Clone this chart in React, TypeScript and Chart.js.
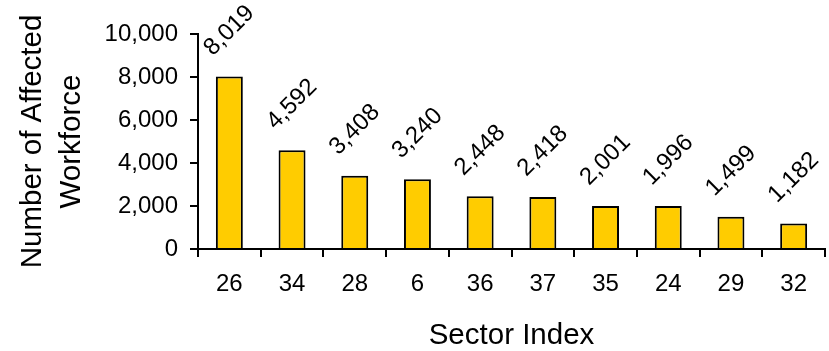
import React, { useEffect, useRef } from "react";
import { Chart, registerables } from "chart.js";

Chart.register(...registerables);

const categories = ["26", "34", "28", "6", "36", "37", "35", "24", "29", "32"];
const workforce = [8019, 4592, 3408, 3240, 2448, 2418, 2001, 1996, 1499, 1182];
const yTitle = ["Number of Affected", "Workforce"];
const xTitle = "Sector Index";

const FONT = "'Liberation Sans', Arial, sans-serif";

const fmt = (v: number) => Number(v).toLocaleString("en-US");

const barLabels = {
  id: "barLabels",
  afterDatasetsDraw(chart: any) {
    const ctx = chart.ctx;
    const meta = chart.getDatasetMeta(0);
    const data = chart.data.datasets[0].data as number[];
    ctx.save();
    ctx.font = `24px ${FONT}`;
    ctx.fillStyle = "#000";
    ctx.textAlign = "center";
    ctx.textBaseline = "middle";
    meta.data.forEach((bar: any, i: number) => {
      ctx.save();
      ctx.translate(bar.x, bar.y - 46);
      ctx.rotate(-Math.PI / 4);
      ctx.fillText(fmt(data[i]), 0, 0);
      ctx.restore();
    });
    ctx.restore();
  },
};

export default function App() {
  const ref = useRef<HTMLCanvasElement | null>(null);

  useEffect(() => {
    if (!ref.current) return;
    const chart = new Chart(ref.current, {
      type: "bar",
      data: {
        labels: categories,
        datasets: [
          {
            data: workforce,
            backgroundColor: "#FFCC00",
            borderColor: "#000000",
            borderWidth: 2,
            barPercentage: 0.43,
            categoryPercentage: 1,
          },
        ],
      },
      options: {
        responsive: false,
        animation: false,
        layout: { padding: { top: 34, right: 4, left: 0, bottom: 0 } },
        plugins: {
          legend: { display: false },
          tooltip: { enabled: false },
        },
        scales: {
          x: {
            offset: true,
            grid: {
              offset: true,
              drawOnChartArea: false,
              drawTicks: true,
              tickLength: 8,
              tickWidth: 2,
              tickColor: "#000",
              color: "#000",
              lineWidth: 2,
            },
            border: { display: true, color: "#000", width: 2 },
            ticks: {
              color: "#000",
              font: { family: FONT, size: 24 },
              padding: 13,
              maxRotation: 0,
              autoSkip: false,
            },
            title: {
              display: true,
              text: xTitle,
              color: "#000",
              font: { family: FONT, size: 29.5, lineHeight: 1 },
              padding: { top: 0, bottom: 0 },
            },
            afterFit(scale: any) {
              scale.height = 102;
            },
          },
          y: {
            min: 0,
            max: 10000,
            grid: {
              drawOnChartArea: false,
              drawTicks: true,
              tickLength: 8,
              tickWidth: 2,
              tickColor: "#000",
              color: "#000",
              lineWidth: 2,
            },
            border: { display: true, color: "#000", width: 2 },
            ticks: {
              stepSize: 2000,
              color: "#000",
              font: { family: FONT, size: 24 },
              padding: 12,
              callback: (v: any) => fmt(v),
            },
            title: {
              display: true,
              text: yTitle,
              color: "#000",
              font: { family: FONT, size: 29.5, lineHeight: 1.32 },
              padding: { top: 13, bottom: 0 },
            },
            afterFit(scale: any) {
              scale.width = 198;
            },
          },
        },
      },
      plugins: [barLabels],
    });
    return () => chart.destroy();
  }, []);

  return (
    <div style={{ position: "fixed", left: 0, top: 0, width: 829, height: 351, background: "#fff" }}>
      <canvas ref={ref} width={829} height={351} style={{ display: "block" }} />
    </div>
  );
}
